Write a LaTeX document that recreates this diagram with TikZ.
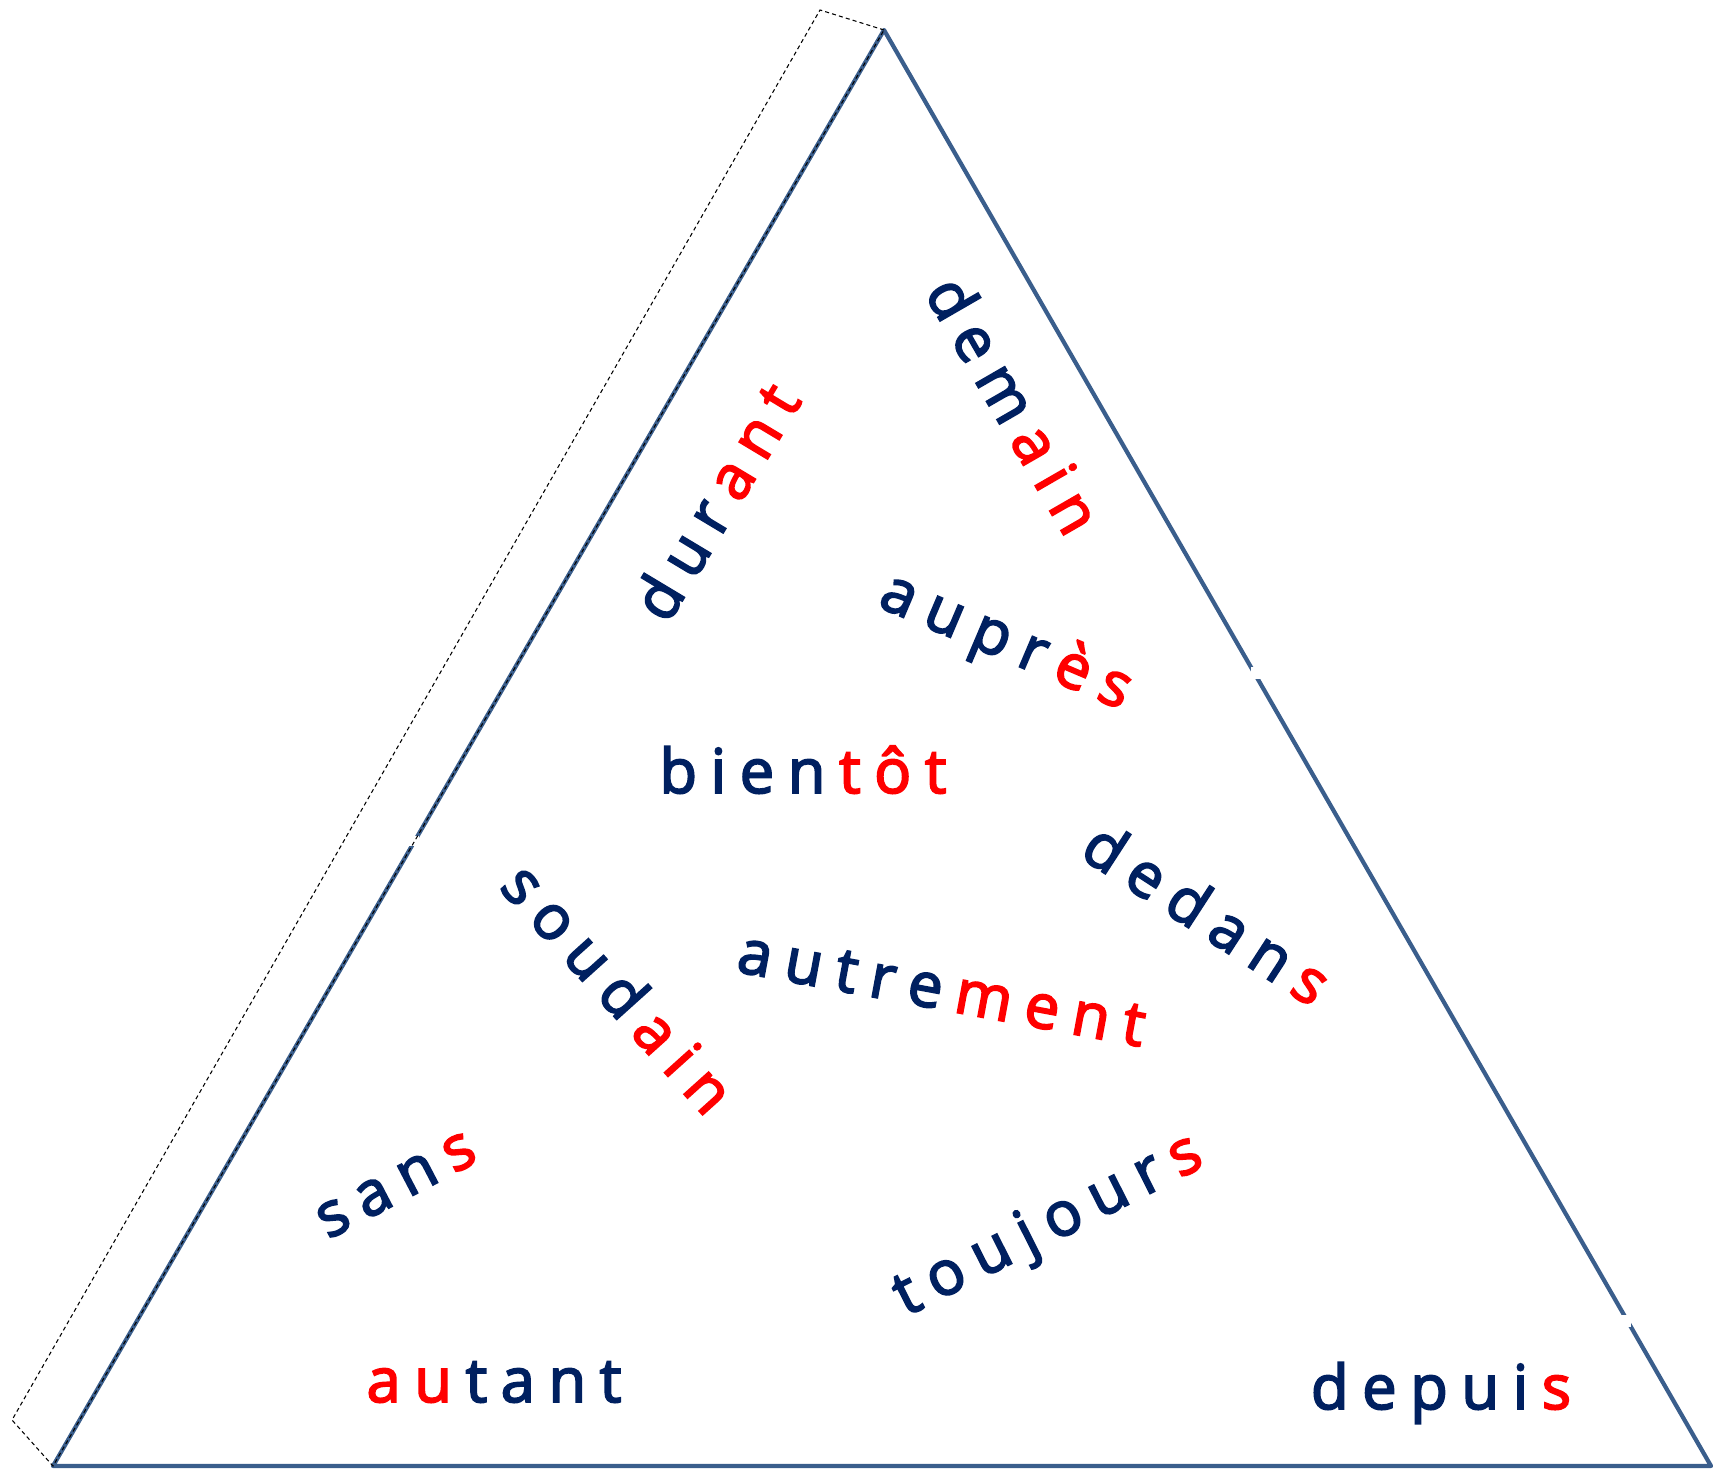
\documentclass[tikz,border=0pt]{standalone}
\usepackage{fontspec}
\newfontfamily\wordfont[FakeBold=3]{Open Sans}
\definecolor{navy}{HTML}{002060}
\definecolor{redw}{HTML}{FF0000}
\definecolor{edge}{HTML}{3A5E8C}
\newcommand\trk{\kern0.22em}
\def\spk#1{\spki#1\relax}
\def\spki#1{\ifx#1\relax\else\trk#1\expandafter\spki\fi}
\newcommand\nv[1]{\textcolor{navy}{#1}}
\newcommand\rd[1]{\textcolor{redw}{#1}}
\begin{document}
\begin{tikzpicture}[x=0.02cm,y=-0.02cm,
  word/.style={anchor=base,inner sep=0pt,font=\wordfont\fontsize{35}{40}\selectfont},
  edgeline/.style={draw=edge,line width=2.4pt,line join=round},
  dashline/.style={draw=black,line width=0.6pt,dash pattern=on 2.3pt off 1.8pt}]
\useasboundingbox (0,0) rectangle (1713,1469);
\coordinate (A) at (884,30);
\coordinate (B) at (53,1466);
\coordinate (C) at (1711,1466);
\coordinate (D) at (820,10);
\coordinate (E) at (12,1420);
\draw[edgeline] (A) -- (C) -- (B) -- cycle;
% small gaps in the edges
\coordinate (g1) at (1257,673);
\coordinate (g2) at (414,841);
\coordinate (g3) at (1625,1321);
\fill[white] (g1) ++(-6,-6) rectangle ++(12,12);
\fill[white] (g2) ++(-5,-5) rectangle ++(10,10);
\fill[white] (g3) ++(-6,-6) rectangle ++(12,12);
\draw[dashline] (A) -- (D) -- (E) -- (B) -- (A);
% words
\node[word,rotate=59] (durant) at (735,513) {\nv{d\spk{ur}}\rd{\spk{ant}}};
\node[word,rotate=-60] (demain) at (995,416) {\nv{d\spk{em}}\rd{\spk{ain}}};
\node[word,rotate=-23] (aupres) at (999,658) {\nv{a\spk{upr}}\rd{\spk{ès}}};
\node[word] (bientot) at (803,793) {\nv{b\spk{ien}}\rd{\spk{tôt}}};
\node[word,rotate=-33] (dedans) at (1195,932) {\nv{d\spk{edan}}\rd{\spk{s}}};
\node[word,rotate=-48] (soudain) at (602,1003) {\nv{s\spk{oud}}\rd{\spk{ain}}};
\node[word,rotate=-10.5] (autrement) at (938,1009) {\nv{a\spk{utre}}\rd{\spk{ment}}};
\node[word,rotate=27.6] (sans) at (404,1200) {\nv{s\spk{an}}\rd{\spk{s}}};
\node[word,rotate=26.8] (toujours) at (1056,1241) {\nv{t\spk{oujour}}\rd{\spk{s}}};
\node[word] (autant) at (494,1402) {\rd{a\spk{u}}\nv{\spk{tant}}};
\node[word] (depuis) at (1441,1409) {\nv{d\spk{epui}}\rd{\spk{s}}};
\end{tikzpicture}
\end{document}
